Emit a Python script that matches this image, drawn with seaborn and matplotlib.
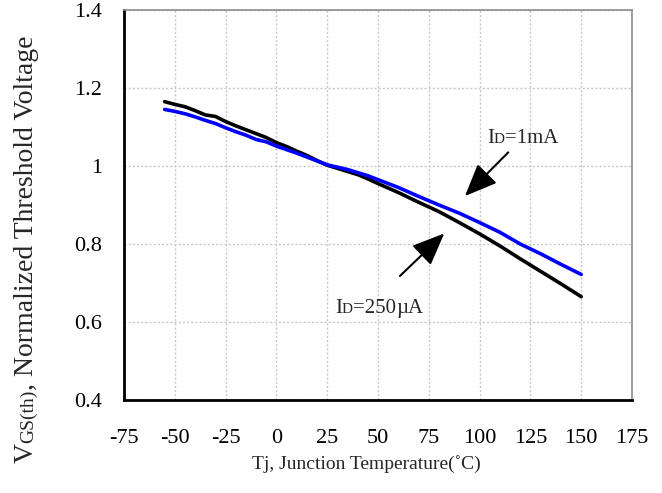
import numpy as np
import pandas as pd
import matplotlib
matplotlib.use("Agg")
import matplotlib.pyplot as plt
from matplotlib.transforms import offset_copy
import seaborn as sns

# Junction temperature (°C)
temp_c = [-55, -50, -45, -40, -35, -30, -25, -20, -15, -10, -5, 0, 5, 10, 15, 20,
          25, 30, 35, 40, 45, 50, 60, 70, 80, 90, 100, 110, 120, 130, 140, 150]

# Normalized threshold voltage, ID = 250 µA
vth_250ua = [1.165, 1.158, 1.152, 1.142, 1.131, 1.127, 1.114, 1.103, 1.093, 1.083,
             1.073, 1.060, 1.050, 1.038, 1.027, 1.014, 1.002, 0.994, 0.986, 0.978,
             0.967, 0.955, 0.932, 0.907, 0.883, 0.855, 0.826, 0.795, 0.762, 0.730,
             0.698, 0.665]

# Normalized threshold voltage, ID = 1 mA
vth_1ma = [1.145, 1.140, 1.134, 1.126, 1.117, 1.109, 1.098, 1.088, 1.079, 1.068,
           1.062, 1.051, 1.042, 1.033, 1.023, 1.013, 1.003, 0.997, 0.991, 0.983,
           0.975, 0.965, 0.945, 0.922, 0.900, 0.879, 0.855, 0.830, 0.800, 0.775,
           0.748, 0.722]

series_names = ["ID=250uA", "ID=1mA"]
series_colors = ["#000000", "#0000ff"]

x_ticks = [-75, -50, -25, 0, 25, 50, 75, 100, 125, 150, 175]
y_ticks = [0.4, 0.6, 0.8, 1.0, 1.2, 1.4]
y_tick_labels = ["0.4", "0.6", "0.8", "1", "1.2", "1.4"]

df = pd.DataFrame({
    "Tj": temp_c * 2,
    "Vth": vth_250ua + vth_1ma,
    "series": [series_names[0]] * len(temp_c) + [series_names[1]] * len(temp_c),
})

sns.set_style("white")
plt.rcParams["font.family"] = ["Liberation Serif", "DejaVu Serif"]

W, H, DPI = 662, 493, 100
fig = plt.figure(figsize=(W / DPI, H / DPI), dpi=DPI)
ax = fig.add_axes([124 / W, 1 - 400 / H, (632 - 124) / W, (400 - 10) / H])

sns.lineplot(data=df, x="Tj", y="Vth", hue="series",
             palette=dict(zip(series_names, series_colors)),
             linewidth=2.6, ax=ax, legend=False, sort=False)
# blue curve drawn on top
ax.get_lines()[1].set_zorder(3)

ax.set_xlim(-75, 175)
ax.set_ylim(0.4, 1.4)
ax.set_xticks(x_ticks)
ax.set_xticklabels([str(t) for t in x_ticks])
ax.set_yticks(y_ticks)
ax.set_yticklabels(y_tick_labels)
ax.tick_params(axis="both", direction="in", length=5, width=1.6, labelsize=16,
               colors="black", top=False, right=False)
ax.tick_params(axis="x", pad=21)
ax.tick_params(axis="y", pad=16)
ax.grid(True, color="#c8c8c8", linestyle=(0, (1.5, 1.5)), linewidth=1.0)
ax.set_axisbelow(True)
for side in ("left", "bottom"):
    ax.spines[side].set_color("black")
    ax.spines[side].set_linewidth(2.0)
for side in ("top", "right"):
    ax.spines[side].set_color("#8c8c8c")
    ax.spines[side].set_linewidth(1.2)
ax.set_xlabel("")
ax.set_ylabel("")

# arrows pointing at each curve
arrow = dict(arrowstyle="-|>,head_length=1.0,head_width=0.42", color="black",
             lw=1.5, mutation_scale=20, shrinkA=0, shrinkB=0)
ax.annotate("", xy=(92.8, 0.923), xytext=(114.1, 1.035), arrowprops=arrow)
ax.annotate("", xy=(82.6, 0.827), xytext=(60.8, 0.718), arrowprops=arrow)

renderer = fig.canvas.get_renderer()


def rich_text(x, y, pieces, transform, rotation=0):
    """Draw consecutive text runs of differing size along one baseline."""
    t = transform
    for s, size in pieces:
        txt = fig.text(x, y, s, transform=t, rotation=rotation, fontsize=size,
                       ha="left", va="baseline", rotation_mode="anchor")
        ex = txt.get_window_extent(renderer)
        if rotation == 0:
            t = offset_copy(t, fig=fig, x=ex.width, y=0, units="dots")
        else:
            t = offset_copy(t, fig=fig, x=0, y=ex.height, units="dots")


# curve labels
rich_text(103.6, 1.060, [("I", 15), ("D", 11), ("=1mA", 15)], ax.transData)
rich_text(28.8, 0.622, [("I", 15), ("D", 11), ("=250", 15), ("µ", 15), ("A", 15)],
          ax.transData)

# axis titles
fig.text(366 / W, 1 - 469 / H, "Tj, Junction Temperature(˚C)", fontsize=14,
         ha="center", va="baseline")
rich_text(33 / W, 1 - 463 / H,
          [("V", 20), ("GS(th)", 14), (", Normalized Threshold Voltage", 20)],
          fig.transFigure, rotation=90)

fig.savefig("out.png", dpi=DPI)
